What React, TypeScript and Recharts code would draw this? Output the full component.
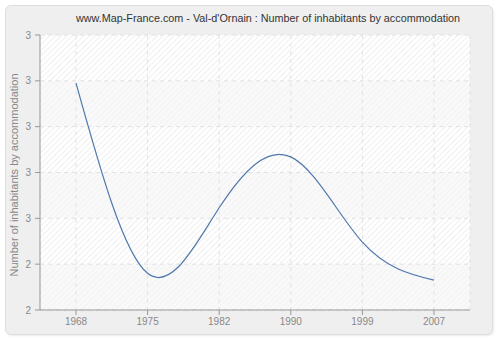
import React from 'react';
import { LineChart, Line, XAxis, YAxis, CartesianGrid } from 'recharts';

const years = ['1968', '1975', '1982', '1990', '1999', '2007'];
const values = [2.795, 2.380, 2.523, 2.634, 2.448, 2.365];
const yTicks = [2.3, 2.4, 2.5, 2.6, 2.7, 2.8, 2.9];

const data = years.map((y, i) => ({ year: y, value: values[i] }));

const FONT = '"Liberation Sans", Arial, sans-serif';

export default function App() {
  return (
    <div style={{ position: 'absolute', left: 0, top: 0, width: 500, height: 340, fontFamily: FONT }}>
      <div
        style={{
          position: 'absolute',
          left: 5,
          top: 5,
          width: 486,
          height: 328,
          background: '#efefef',
          border: '1px solid #dedede',
          borderRadius: 6,
          boxShadow: '1px 1px 2px rgba(0,0,0,0.08)',
        }}
      />
      <div
        style={{
          position: 'absolute',
          left: 68,
          width: 400,
          top: 10,
          textAlign: 'center',
          fontSize: 10.8,
          color: '#333',
          lineHeight: '16px',
          whiteSpace: 'nowrap',
        }}
      >
        www.Map-France.com - Val-d'Ornain : Number of inhabitants by accommodation
      </div>
      <div
        style={{
          position: 'absolute',
          left: 14 - 130,
          top: 175 - 8,
          width: 260,
          height: 16,
          lineHeight: '16px',
          textAlign: 'center',
          fontSize: 11,
          color: '#888',
          transform: 'rotate(-90deg)',
          whiteSpace: 'nowrap',
        }}
      >
        Number of inhabitants by accommodation
      </div>
      <div style={{ position: 'absolute', left: 0, top: 0 }}>
        <LineChart width={500} height={340} data={data} margin={{ top: 35, right: 30, bottom: 0, left: 0 }}>
          <defs>
            <pattern id="hatchA" width="4" height="4" patternUnits="userSpaceOnUse" patternTransform="rotate(45)">
              <rect width="4" height="4" fill="#ffffff" />
              <line x1="0" y1="0" x2="0" y2="4" stroke="#e8e8e8" strokeWidth="1.4" />
            </pattern>
            <pattern id="hatchB" width="4" height="4" patternUnits="userSpaceOnUse" patternTransform="rotate(45)">
              <rect width="4" height="4" fill="#f9f9f9" />
              <line x1="0" y1="0" x2="0" y2="4" stroke="#f1f1f1" strokeWidth="1.4" />
            </pattern>
          </defs>
          <CartesianGrid
            stroke="#e2e2e2"
            strokeDasharray="4 4"
            horizontalFill={['url(#hatchA)', 'url(#hatchB)']}
            fillOpacity={1}
          />
          <XAxis
            dataKey="year"
            type="category"
            padding={{ left: 36, right: 36 }}
            height={30}
            stroke="#999"
            tickSize={5}
            tick={{ fill: '#888', fontSize: 10, fontFamily: FONT }}
            tickMargin={3}
            interval={0}
          />
          <YAxis
            type="number"
            domain={[2.3, 2.9]}
            ticks={yTicks}
            width={40}
            stroke="#999"
            tickSize={5}
            tickMargin={4}
            tick={{ fill: '#888', fontSize: 10, fontFamily: FONT }}
            tickFormatter={(v: number) => String(Math.round(v))}
            interval={0}
          />
          <Line
            type="natural"
            dataKey="value"
            stroke="#4f78ad"
            strokeWidth={1.2}
            dot={false}
            activeDot={false}
            isAnimationActive={false}
          />
        </LineChart>
      </div>
    </div>
  );
}
